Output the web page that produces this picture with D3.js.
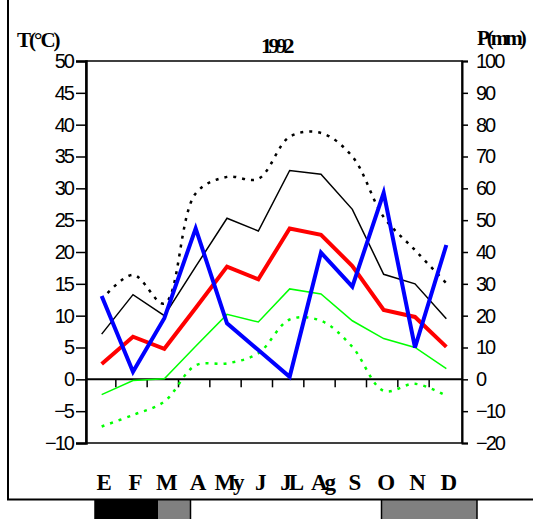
<!DOCTYPE html>
<html>
<head>
<meta charset="utf-8">
<script src="https://cdn.jsdelivr.net/npm/d3@7"></script>
<style>
  body { margin: 0; background: #fff; }
  svg { display: block; }
</style>
</head>
<body>
<div id="chart"></div>
<script>
const months = ['E', 'F', 'M', 'A', 'My', 'J', 'JL', 'Ag', 'S', 'O', 'N', 'D'];
const tMaxAbs = [12.5, 16.4, 11.9, 29.2, 31.8, 31.5, 38.1, 38.7, 35.0, 25.5, 20.3, 15.1];
const tMaxMean = [7.1, 13.3, 10.0, 17.7, 25.3, 23.3, 32.8, 32.2, 26.7, 16.5, 15.0, 9.5];
const tMean = [2.4, 6.7, 4.8, 11.2, 17.7, 15.7, 23.7, 22.7, 17.8, 10.9, 9.8, 5.1];
const tMinMean = [-2.4, -0.2, 0.1, 5.2, 10.2, 9.0, 14.2, 13.4, 9.2, 6.4, 5.0, 1.7];
const tMinAbs = [-7.4, -5.6, -3.5, 2.2, 2.5, 4.1, 9.4, 9.2, 5.1, -1.8, -0.7, -2.6];
const precip = [26.2, 2.4, 19.2, 47.4, 17.6, 9.2, 0.8, 39.8, 29.1, 58.6, 10.0, 42.2];
const tTicks = [-10, -5, 0, 5, 10, 15, 20, 25, 30, 35, 40, 45, 50];
const pTicks = [-20, -10, 0, 10, 20, 30, 40, 50, 60, 70, 80, 90, 100];
const frostSure = ['E', 'F'];
const frostProbable = ['M', 'O', 'N', 'D'];
const title = '1992';

const W = 533, H = 519;
const plot = { left: 86, right: 462, top: 61, bottom: 443 };

const svg = d3.select('#chart').append('svg')
  .attr('width', W).attr('height', H);

const x = d3.scaleBand().domain(months).range([plot.left, plot.right]);
const yT = d3.scaleLinear().domain([-10, 50]).range([plot.bottom, plot.top]);
const yP = d3.scaleLinear().domain([-20, 100]).range([plot.bottom, plot.top]);
const cx = (m) => x(m) + x.bandwidth() / 2;

// frost bar (under the frame line)
const xFrost = d3.scaleBand().domain(months).range([95, 477]);
const frost = frostSure.concat(frostProbable);
const fx = (m) => Math.floor(xFrost(m));
const fw = Math.ceil(xFrost.bandwidth()) + 1;
svg.append('g').selectAll('rect')
  .data(frostSure)
  .join('rect')
  .attr('x', fx).attr('y', 499)
  .attr('width', fw).attr('height', 25)
  .attr('fill', '#000').attr('shape-rendering', 'crispEdges');
svg.append('g').selectAll('rect')
  .data(frostProbable)
  .join('rect')
  .attr('x', fx).attr('y', 499)
  .attr('width', fw).attr('height', 25)
  .attr('fill', '#808080').attr('shape-rendering', 'crispEdges');

// block edges: left where the previous month has no frost, right where the next has none
const blockEnds = months.filter((m, i) => frost.includes(m) && (i === months.length - 1 || !frost.includes(months[i + 1])));
const edges = [];
months.forEach((m, i) => {
  if (!frost.includes(m)) return;
  if (i === 0 || !frost.includes(months[i - 1])) edges.push(xFrost(m));
  if (blockEnds.includes(m)) edges.push(xFrost(m) + xFrost.bandwidth());
});
// trim the overhang past each block's right edge
svg.append('g').selectAll('rect')
  .data(blockEnds)
  .join('rect')
  .attr('x', (m) => xFrost(m) + xFrost.bandwidth()).attr('y', 500)
  .attr('width', 2).attr('height', 25)
  .attr('fill', '#fff');
svg.append('g').selectAll('line')
  .data(edges)
  .join('line')
  .attr('x1', (d) => d).attr('x2', (d) => d)
  .attr('y1', 499).attr('y2', H)
  .attr('stroke', '#000').attr('stroke-width', 1.5);

// outer frame
svg.append('path')
  .attr('d', `M8,0 V499.5 H${W}`)
  .attr('fill', 'none').attr('stroke', '#000').attr('stroke-width', 2);

// plot box
svg.append('rect')
  .attr('x', plot.left).attr('y', plot.top)
  .attr('width', plot.right - plot.left).attr('height', plot.bottom - plot.top)
  .attr('fill', 'none').attr('stroke', '#000').attr('stroke-width', 1.5);

// left axis
const leftAxis = svg.append('g')
  .attr('transform', `translate(${plot.left},0)`)
  .call(d3.axisLeft(yT).tickValues(tTicks).tickSize(10).tickPadding(3));
leftAxis.select('.domain').attr('stroke-width', 2.5);
leftAxis.selectAll('.tick line').attr('stroke-width', 1.5);
leftAxis.selectAll('text')
  .style('font-family', 'Liberation Sans, Arial, sans-serif')
  .style('font-size', '20px').style('letter-spacing', '-2px').attr('fill', '#000');

// right axis
const rightAxis = svg.append('g')
  .attr('transform', `translate(${plot.right},0)`)
  .call(d3.axisRight(yP).tickValues(pTicks).tickSize(6).tickPadding(8));
rightAxis.select('.domain').attr('stroke-width', 2);
rightAxis.selectAll('.tick line').attr('stroke-width', 1.5);
rightAxis.selectAll('text')
  .style('font-family', 'Liberation Sans, Arial, sans-serif')
  .style('font-size', '20px').style('letter-spacing', '-2px').attr('fill', '#000');

// zero line with month ticks
svg.append('line')
  .attr('x1', plot.left).attr('x2', plot.right)
  .attr('y1', yT(0)).attr('y2', yT(0))
  .attr('stroke', '#000').attr('stroke-width', 2);
svg.append('g').selectAll('line')
  .data(months.slice(1))
  .join('line')
  .attr('x1', (m) => x(m) - 1.5).attr('x2', (m) => x(m) - 1.5)
  .attr('y1', yT(0)).attr('y2', yT(0) + 8)
  .attr('stroke', '#000').attr('stroke-width', 1.5);

// series
const tLine = (curve) => d3.line()
  .x((d, i) => cx(months[i]))
  .y((d) => yT(d))
  .curve(curve);
const pLine = d3.line()
  .x((d, i) => cx(months[i]))
  .y((d) => yP(d));

const series = [
  { data: tMinAbs, gen: tLine(d3.curveCatmullRom), color: '#00ff00', width: 2.5, dash: '3,6' },
  { data: tMaxAbs, gen: tLine(d3.curveCatmullRom), color: '#000', width: 2.5, dash: '3,6' },
  { data: tMinMean, gen: tLine(d3.curveLinear), color: '#00ff00', width: 1.5, dash: null },
  { data: tMaxMean, gen: tLine(d3.curveLinear), color: '#000', width: 1.5, dash: null },
  { data: tMean, gen: tLine(d3.curveLinear), color: '#ff0000', width: 4, dash: null },
  { data: precip, gen: pLine, color: '#0000ff', width: 4, dash: null }
];
series.forEach((s) => {
  svg.append('path')
    .datum(s.data)
    .attr('d', s.gen)
    .attr('fill', 'none')
    .attr('stroke', s.color)
    .attr('stroke-width', s.width)
    .attr('stroke-dasharray', s.dash);
});

// titles
const serif = 'Liberation Serif, Times New Roman, serif';
svg.append('text')
  .attr('x', 276).attr('y', 53).attr('text-anchor', 'middle')
  .style('font-family', serif).style('font-weight', 'bold')
  .style('font-size', '22px').style('letter-spacing', '-3.5px')
  .text(title);
svg.append('text')
  .attr('x', 17).attr('y', 47)
  .style('font-family', serif).style('font-weight', 'bold')
  .style('font-size', '21px').style('letter-spacing', '-2px')
  .text('T(°C)');
svg.append('text')
  .attr('x', 477).attr('y', 45)
  .style('font-family', serif).style('font-weight', 'bold')
  .style('font-size', '21px').style('letter-spacing', '-3px')
  .text('P(mm)');

// month labels
svg.append('g').selectAll('text')
  .data(months)
  .join('text')
  .attr('x', (m) => cx(m) + 1)
  .attr('y', 490)
  .attr('text-anchor', 'middle')
  .style('font-family', serif).style('font-weight', 'bold')
  .style('font-size', '23px').style('letter-spacing', '-3px')
  .text((d) => d);
</script>
</body>
</html>
